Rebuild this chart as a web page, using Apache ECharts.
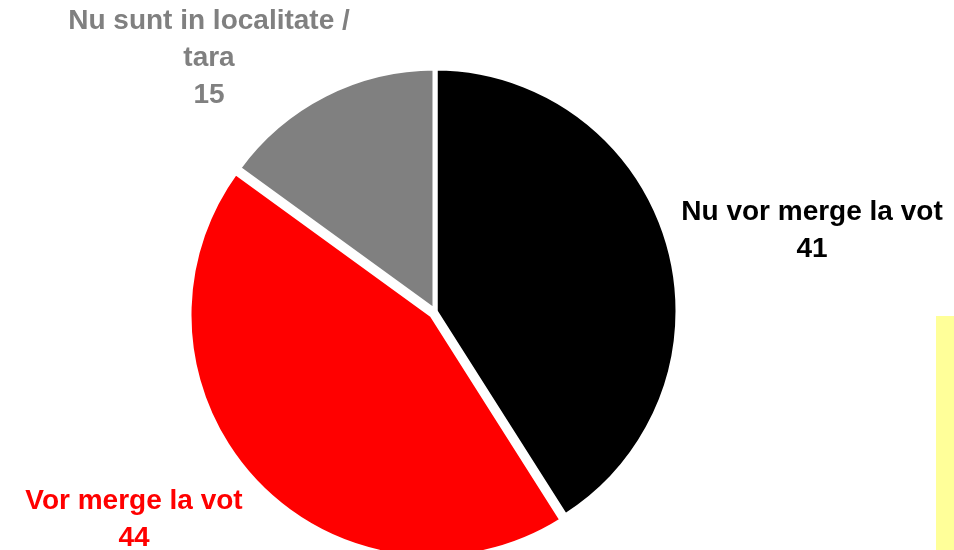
<!DOCTYPE html>
<html><head><meta charset="utf-8">
<script src="https://cdn.jsdelivr.net/npm/echarts@6/dist/echarts.min.js"></script>
<style>html,body{margin:0;padding:0;background:#fff}#c{width:954px;height:550px}</style>
</head><body><div id="c"></div>
<script>
const categories = ['Nu vor merge la vot', 'Vor merge la vot', 'Nu sunt in localitate /\ntara'];
const values = [41, 44, 15];
const colors = ['#000000', '#FF0000', '#808080'];
const labelPos = [[812, 231], [134, 520], [209, 58]];
const explodedIndex = 1;

const chart = echarts.init(document.getElementById('c'));
const base = {
  type: 'pie',
  radius: 243,
  startAngle: 90,
  clockwise: true,
  avoidLabelOverlap: false,
  itemStyle: { borderColor: '#fff', borderWidth: 5 },
  labelLine: { show: false }
};
chart.setOption({
  animation: false,
  graphic: [{ type: 'rect', shape: { x: 936, y: 316, width: 18, height: 234 }, style: { fill: '#FFFF99' } }],
  series: [
    Object.assign({}, base, {
      center: [435, 311],
      z: 2,
      label: {
        show: true,
        position: 'outside',
        fontFamily: 'Liberation Sans, Arial, sans-serif',
        fontWeight: 'bold',
        fontSize: 28,
        lineHeight: 37,
        align: 'center',
        formatter: p => p.name + '\n' + p.value
      },
      labelLayout: p => ({ x: labelPos[p.dataIndex][0], y: labelPos[p.dataIndex][1], align: 'center', verticalAlign: 'middle' }),
      data: categories.map((n, i) => ({
        name: n, value: values[i],
        itemStyle: i === explodedIndex ? { color: 'rgba(0,0,0,0)', borderColor: 'rgba(0,0,0,0)' } : { color: colors[i] },
        label: { color: colors[i] }
      }))
    }),
    Object.assign({}, base, {
      center: [432, 315],
      z: 1,
      silent: true,
      label: { show: false },
      data: categories.map((n, i) => ({
        name: n, value: values[i],
        itemStyle: i === explodedIndex ? { color: colors[i] } : { color: 'rgba(0,0,0,0)', borderColor: 'rgba(0,0,0,0)' }
      }))
    })
  ]
});
</script></body></html>
